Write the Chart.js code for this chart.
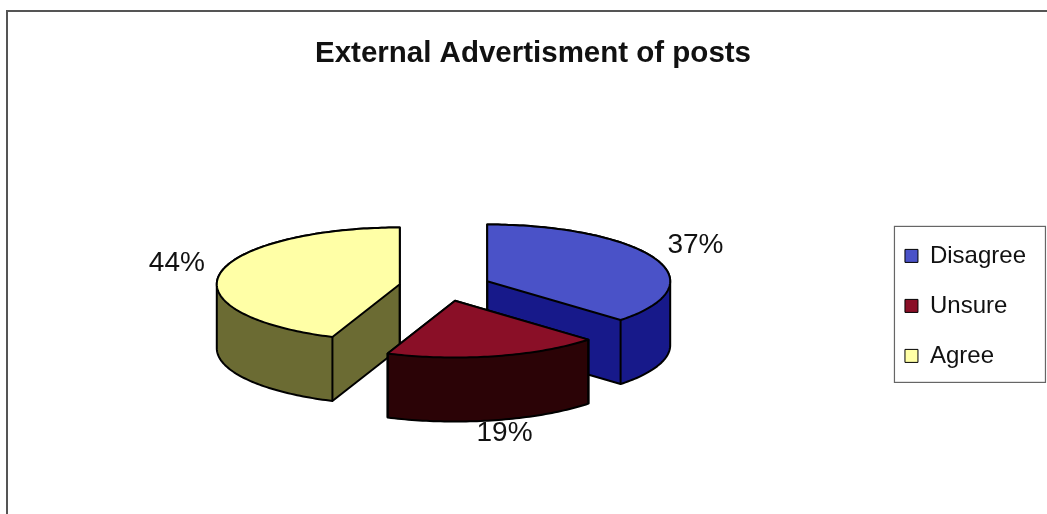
<!DOCTYPE html>
<html>
<head>
<meta charset="utf-8">
<script src="https://cdn.jsdelivr.net/npm/chart.js@4"></script>
<style>
  html, body { margin: 0; padding: 0; background: #fff; }
  #wrap { width: 1047px; height: 514px; position: relative; }
</style>
</head>
<body>
<div id="wrap"><canvas id="pieChart"></canvas></div>
<script>
var labels = ["Disagree", "Unsure", "Agree"];
var values = [37, 19, 44];
var topColors = ["#4a52c8", "#8a0f27", "#ffffa6"];
var sideColors = ["#17198a", "#2b0306", "#6b6b33"];

// 3D look of the pie
var TILT = 0.31;     // vertical squash of the disc
var DEPTH = 64;      // thickness of each slice
var EXPLODE = 46;    // how far each slice is pulled out
var LIFT = 19;       // raise the disc above the middle of the plot area
var SHIFT = -9.5;    // nudge the disc left

function slicePoints(cx, cy, rx, ry, a1, a2) {
  var pts = [{x: cx, y: cy}];
  var n = Math.max(8, Math.ceil((a2 - a1) / 0.02));
  for (var i = 0; i <= n; i++) {
    var a = a1 + (a2 - a1) * i / n;
    pts.push({x: cx + rx * Math.cos(a), y: cy + ry * Math.sin(a)});
  }
  return pts;
}

function hull(points) {
  var p = points.slice().sort(function (a, b) { return a.x - b.x || a.y - b.y; });
  var cross = function (o, a, b) { return (a.x - o.x) * (b.y - o.y) - (a.y - o.y) * (b.x - o.x); };
  var lower = [], upper = [];
  p.forEach(function (q) {
    while (lower.length >= 2 && cross(lower[lower.length - 2], lower[lower.length - 1], q) <= 0) lower.pop();
    lower.push(q);
  });
  for (var i = p.length - 1; i >= 0; i--) {
    var q = p[i];
    while (upper.length >= 2 && cross(upper[upper.length - 2], upper[upper.length - 1], q) <= 0) upper.pop();
    upper.push(q);
  }
  upper.pop(); lower.pop();
  return lower.concat(upper);
}

function polyPath(ctx, pts) {
  ctx.beginPath();
  pts.forEach(function (p, i) { if (i) ctx.lineTo(p.x, p.y); else ctx.moveTo(p.x, p.y); });
  ctx.closePath();
}

function sliceGeom(arc) {
  var rx = arc.outerRadius, ry = rx * TILT;
  var m = (arc.startAngle + arc.endAngle) / 2;
  return {
    m: m, rx: rx, ry: ry,
    cx: arc.x + SHIFT + EXPLODE * Math.cos(m),
    cy: arc.y - LIFT + EXPLODE * TILT * Math.sin(m)
  };
}

var pie3d = {
  id: 'pie3d',
  beforeDatasetsDraw: function (chart) {
    var ctx = chart.ctx;
    var arcs = chart.getDatasetMeta(0).data;
    var order = arcs.map(function (a, i) { return i; }).sort(function (i, j) {
      return Math.sin(sliceGeom(arcs[i]).m) - Math.sin(sliceGeom(arcs[j]).m);
    });
    ctx.save();
    ctx.lineJoin = 'round';
    ctx.strokeStyle = '#000';
    ctx.lineWidth = 2;
    order.forEach(function (i) {
      var arc = arcs[i];
      var g = sliceGeom(arc);
      var top = slicePoints(g.cx, g.cy, g.rx, g.ry, arc.startAngle, arc.endAngle);
      var body = hull(top.concat(top.map(function (p) { return {x: p.x, y: p.y + DEPTH}; })));
      ctx.fillStyle = sideColors[i];
      polyPath(ctx, body);
      ctx.fill();
      ctx.stroke();
      // vertical edges under the corners that face the viewer
      polyPath(ctx, top);
      var corners = [top[0], top[1], top[top.length - 1]];
      var front = corners.filter(function (p) { return !ctx.isPointInPath(p.x, p.y + 3); });
      ctx.beginPath();
      front.forEach(function (p) { ctx.moveTo(p.x, p.y); ctx.lineTo(p.x, p.y + DEPTH); });
      ctx.stroke();
      ctx.fillStyle = topColors[i];
      polyPath(ctx, top);
      ctx.fill();
      ctx.stroke();
    });
    ctx.restore();
    return false;
  },
  afterDraw: function (chart) {
    var ctx = chart.ctx;
    var arcs = chart.getDatasetMeta(0).data;
    ctx.save();
    // percentage labels
    ctx.font = '28px "Liberation Sans", Arial, sans-serif';
    ctx.fillStyle = '#111';
    ctx.textAlign = 'center';
    ctx.textBaseline = 'middle';
    arcs.forEach(function (arc, i) {
      var g = sliceGeom(arc);
      var ux = Math.cos(g.m), uy = Math.sin(g.m);
      var lx = g.cx + g.rx * 1.24 * ux;
      var ly = g.cy + g.ry * 1.24 * uy + (uy > 0 ? DEPTH : -8);
      ctx.fillText(values[i] + '%', lx, ly);
    });
    // legend frame
    var hb = chart.legend.legendHitBoxes;
    var first = hb[0], last = hb[hb.length - 1];
    ctx.strokeStyle = '#666';
    ctx.lineWidth = 1.2;
    ctx.strokeRect(first.left - 10.5, first.top - 17.5, 151, last.top + last.height - first.top + 32);
    // chart frame
    ctx.strokeStyle = '#555';
    ctx.lineWidth = 2;
    ctx.strokeRect(7, 11, 1060, 520);
    ctx.restore();
  }
};

new Chart("pieChart", {
  type: "pie",
  data: {
    labels: labels,
    datasets: [{
      data: values,
      backgroundColor: topColors,
      borderColor: "#000",
      borderWidth: 1
    }]
  },
  options: {
    responsive: true,
    maintainAspectRatio: false,
    animation: false,
    radius: 183,
    layout: {
      padding: { left: 30, right: 11, top: 0, bottom: 10 }
    },
    plugins: {
      title: {
        display: true,
        text: "External Advertisment of posts",
        color: "#111",
        font: { family: '"Liberation Sans", Arial, sans-serif', size: 29.5, weight: 'bold' },
        padding: { top: 36, bottom: 36.4 }
      },
      legend: {
        display: true,
        position: 'right',
        fullSize: false,
        labels: {
          color: "#111",
          font: { family: '"Liberation Sans", Arial, sans-serif', size: 24 },
          boxWidth: 13,
          boxHeight: 13,
          padding: 26
        }
      },
      tooltip: { enabled: false }
    }
  },
  plugins: [pie3d]
});
</script>
</body>
</html>
